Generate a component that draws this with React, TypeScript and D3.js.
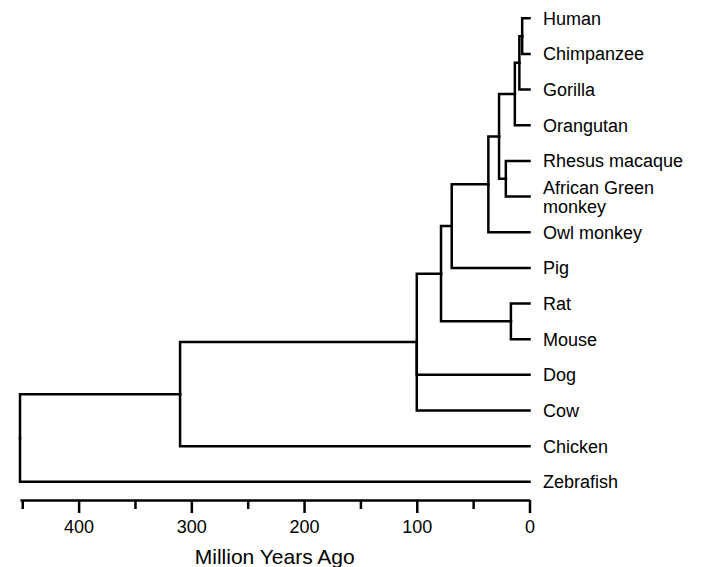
import React, { useEffect, useRef } from "react";
import * as d3 from "d3";

// leaves, top to bottom
const leafNames = [
  "Human",
  "Chimpanzee",
  "Gorilla",
  "Orangutan",
  "Rhesus macaque",
  "African Green monkey",
  "Owl monkey",
  "Pig",
  "Rat",
  "Mouse",
  "Dog",
  "Cow",
  "Chicken",
  "Zebrafish",
];

// internal nodes: name, divergence time (million years ago), children
const nodeNames = [
  "HC", "HCG", "apes", "oldWorldMonkeys", "catarrhini", "anthropoidea",
  "primatesPig", "rodents", "eutherianCore", "mammals", "amniotes", "root",
];
const nodeAges = [6.5, 9, 13, 21, 27, 36.5, 69, 16.5, 78.5, 100, 310, 452];
const nodeChildren = [
  ["Human", "Chimpanzee"],
  ["HC", "Gorilla"],
  ["HCG", "Orangutan"],
  ["Rhesus macaque", "African Green monkey"],
  ["apes", "oldWorldMonkeys"],
  ["catarrhini", "Owl monkey"],
  ["anthropoidea", "Pig"],
  ["Rat", "Mouse"],
  ["primatesPig", "rodents"],
  ["eutherianCore", "Dog", "Cow"],
  ["mammals", "Chicken"],
  ["amniotes", "Zebrafish"],
];

const majorTicks = [400, 300, 200, 100, 0];
const minorTicks = [450, 350, 250, 150, 50];
const axisTitle = "Million Years Ago";

const width = 705, height = 567;
const font = "'Liberation Sans', Arial, Helvetica, sans-serif";
const lineW = 2.5;

export default function App() {
  const ref = useRef<SVGSVGElement>(null);

  useEffect(() => {
    const svg = d3.select(ref.current);
    svg.selectAll("*").remove();

    // build parent table for stratify
    const parentOf: Record<string, string> = {};
    nodeChildren.forEach((kids, i) => kids.forEach(k => (parentOf[k] = nodeNames[i])));
    const ageOf: Record<string, number> = {};
    nodeNames.forEach((n, i) => (ageOf[n] = nodeAges[i]));
    leafNames.forEach(n => (ageOf[n] = 0));

    const rows = [...nodeNames, ...leafNames].map(id => ({ id, parentId: parentOf[id] }));
    const root = d3.stratify<{ id: string; parentId?: string }>()
      .id(d => d.id)
      .parentId(d => d.parentId)(rows);

    // keep child order as listed
    root.each(n => {
      const idx = nodeNames.indexOf(n.id!);
      if (idx >= 0 && n.children) {
        const order = nodeChildren[idx];
        n.children.sort((a, b) => order.indexOf(a.id!) - order.indexOf(b.id!));
      }
    });

    const x = d3.scaleLinear().domain([452, 0]).range([20, 529.5]);
    const y = d3.scalePoint<string>().domain(leafNames).range([18.3, 481.8]);

    // vertical position: leaves on the point scale, nodes halfway between outer children
    const ypos = new Map<string, number>();
    root.eachAfter(n => {
      if (!n.children) ypos.set(n.id!, y(n.id!)!);
      else {
        const first = ypos.get(n.children[0].id!)!;
        const last = ypos.get(n.children[n.children.length - 1].id!)!;
        ypos.set(n.id!, (first + last) / 2);
      }
    });

    const g = svg.append("g");

    g.selectAll("path.link")
      .data(root.links())
      .enter()
      .append("path")
      .attr("class", "link")
      .attr("fill", "none")
      .attr("stroke", "#000")
      .attr("stroke-width", lineW)
      .attr("stroke-linecap", "square")
      .attr("d", d => {
        const px = x(ageOf[d.source.id!]);
        const py = ypos.get(d.source.id!)!;
        const cx = x(ageOf[d.target.id!]);
        const cy = ypos.get(d.target.id!)!;
        return `M${px},${py}V${cy}H${cx}`;
      });

    // leaf labels
    const labels = g.selectAll("text.leaf")
      .data(root.leaves())
      .enter()
      .append("text")
      .attr("class", "leaf")
      .attr("x", 543)
      .attr("font-family", font)
      .attr("font-size", 18)
      .attr("fill", "#000");

    labels.each(function (d) {
      const t = d3.select(this);
      const yy = ypos.get(d.id!)!;
      if (d.id === "African Green monkey") {
        t.append("tspan").attr("x", 543).attr("y", yy - 3).text("African Green");
        t.append("tspan").attr("x", 543).attr("y", yy + 16.5).text("monkey");
      } else {
        t.attr("y", yy + 6.5).text(d.id!);
      }
    });

    // axis
    const axisY = 500;
    const axisG = svg.append("g").attr("transform", `translate(0,${axisY})`);
    axisG.call(
      d3.axisBottom(x).tickValues(majorTicks).tickSize(13).tickSizeOuter(0).tickPadding(7).tickFormat(d3.format("d"))
    );
    axisG.select(".domain").attr("stroke-width", lineW);
    axisG.selectAll(".tick line").attr("stroke-width", lineW);
    axisG.selectAll(".tick text").attr("font-family", font).attr("font-size", 18).attr("fill", "#000");

    const minorG = svg.append("g").attr("transform", `translate(0,${axisY})`);
    minorG.call(d3.axisBottom(x).tickValues(minorTicks).tickSize(9).tickSizeOuter(0).tickFormat(() => ""));
    minorG.select(".domain").remove();
    minorG.selectAll(".tick line").attr("stroke-width", lineW);

    svg.append("text")
      .attr("x", (x.range()[0] + x.range()[1]) / 2)
      .attr("y", 564)
      .attr("text-anchor", "middle")
      .attr("font-family", font)
      .attr("font-size", 21)
      .attr("fill", "#000")
      .text(axisTitle);
  }, []);

  return (
    <svg
      ref={ref}
      width={width}
      height={height}
      style={{ position: "absolute", left: 0, top: 0, background: "#fff" }}
    />
  );
}
